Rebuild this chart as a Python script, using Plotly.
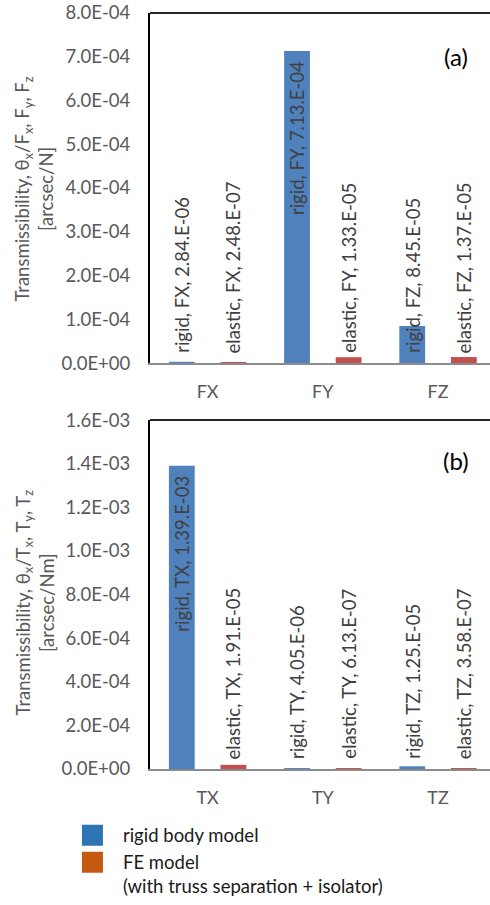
import plotly.graph_objects as go

# ---------------- data ----------------
force_categories = ["FX", "FY", "FZ"]
force_rigid = [2.84e-06, 7.13e-04, 8.45e-05]
force_elastic = [2.48e-07, 1.33e-05, 1.37e-05]
force_ticks = [0, 1e-4, 2e-4, 3e-4, 4e-4, 5e-4, 6e-4, 7e-4, 8e-4]

torque_categories = ["TX", "TY", "TZ"]
torque_rigid = [1.39e-03, 4.05e-06, 1.25e-05]
torque_elastic = [1.91e-05, 6.13e-07, 3.58e-07]
torque_ticks = [0, 2e-4, 4e-4, 6e-4, 8e-4, 1.0e-3, 1.2e-3, 1.4e-3, 1.6e-3]

series_short = ["rigid", "elastic"]
legend_names = ["rigid body model", "FE model<br>(with truss separation + isolator)"]

# ---------------- style ----------------
FONT = "Lato"
BAR_COLORS = ["#4F81BD", "#C0504D"]
LEGEND_COLORS = ["#2E75B6", "#C55A11"]
TICK_COLOR = "#595959"
LABEL_COLOR = "#404040"


def fmt_tick(v):
    return f"{v:.1E}"


def fmt_label(series, cat, v):
    s = f"{v:.2E}"
    return f"{series}, {cat}, " + s.replace("E", ".E")


fig = go.Figure()

panels = [
    ("x", "y", force_categories, [force_rigid, force_elastic], force_ticks),
    ("x2", "y2", torque_categories, [torque_rigid, torque_elastic], torque_ticks),
]

annotations = []
offsets = [-0.224, 0.224]
for xa, ya, cats, series_vals, ticks in panels:
    ymax = ticks[-1]
    for si, vals in enumerate(series_vals):
        fig.add_trace(go.Bar(
            x=cats, y=vals, xaxis=xa, yaxis=ya,
            marker=dict(color=BAR_COLORS[si], line=dict(width=0)),
            showlegend=False, hoverinfo="skip",
        ))
        for ci, (cat, v) in enumerate(zip(cats, vals)):
            inside_end = v > 0.5 * ymax
            annotations.append(dict(
                x=ci + offsets[si], xref=xa,
                y=v if inside_end else 0, yref=ya,
                yanchor="top" if inside_end else "bottom",
                xanchor="center",
                yshift=-8 if inside_end else 8,
                text=fmt_label(series_short[si], cat, v),
                textangle=-90, showarrow=False,
                font=dict(family=FONT, size=18.5, color=LABEL_COLOR),
            ))

# legend-only entries
for name, col in zip(legend_names, LEGEND_COLORS):
    fig.add_trace(go.Scatter(
        x=[None], y=[None], mode="markers", name=name,
        marker=dict(symbol="square", size=16, color=col, line=dict(color=col, width=5)),
        xaxis="x2", yaxis="y2", showlegend=True,
    ))

# panel letters
annotations.append(dict(x=0.9, xref="paper", y=0.876, yref="y domain", text="(a)",
                        xanchor="center", yanchor="middle",
                        showarrow=False, font=dict(family=FONT, size=24, color="#000000")))
annotations.append(dict(x=0.9, xref="paper", y=0.885, yref="y2 domain", text="(b)",
                        xanchor="center", yanchor="middle",
                        showarrow=False, font=dict(family=FONT, size=24, color="#000000")))

# y-axis titles
annotations.append(dict(
    x=-0.3397, xref="paper", y=0.497, yref="y domain", textangle=-90, showarrow=False,
    xanchor="center", yanchor="middle",
    text="Transmissibility, θ<sub>x</sub>/F<sub>x</sub>, F<sub>y</sub>, F<sub>z</sub><br>[arcsec/N]",
    font=dict(family=FONT, size=18.5, color=TICK_COLOR),
))
annotations.append(dict(
    x=-0.3397, xref="paper", y=0.476, yref="y2 domain", textangle=-90, showarrow=False,
    xanchor="center", yanchor="middle",
    text="Transmissibility, θ<sub>x</sub>/T<sub>x</sub>, T<sub>y</sub>, T<sub>z</sub><br>[arcsec/Nm]",
    font=dict(family=FONT, size=18.5, color=TICK_COLOR),
))

shapes = []
for ya in ["y", "y2"]:
    shapes.append(dict(type="line", xref="x domain" if ya == "y" else "x2 domain",
                       yref=f"{ya} domain", x0=0, x1=1, y0=1, y1=1,
                       line=dict(color="#262626", width=2)))

xaxis_common = dict(
    type="category", range=[-0.5, 2.451], showline=True, linecolor="#8C8C8C",
    linewidth=1.5, showgrid=False, zeroline=False, ticks="",
    tickfont=dict(family=FONT, size=18, color=TICK_COLOR), ticklabelstandoff=12,
)
yaxis_common = dict(
    showline=True, linecolor="#000000", linewidth=2, showgrid=False, zeroline=False,
    ticks="", tickfont=dict(family=FONT, size=18.5, color=TICK_COLOR), ticklabelstandoff=14,
)

fig.update_layout(
    width=490, height=905,
    margin=dict(l=150, r=0, t=13, b=136, autoexpand=False),
    paper_bgcolor="white", plot_bgcolor="white",
    barmode="group", bargap=0.104, bargroupgap=0.5,
    xaxis=dict(xaxis_common, domain=[0, 1], anchor="y",
               categoryorder="array", categoryarray=force_categories),
    yaxis=dict(yaxis_common, domain=[0.537, 1], anchor="x", range=[0, force_ticks[-1]],
               tickvals=force_ticks, ticktext=[fmt_tick(v) for v in force_ticks]),
    xaxis2=dict(xaxis_common, domain=[0, 1], anchor="y2",
                categoryorder="array", categoryarray=torque_categories),
    yaxis2=dict(yaxis_common, domain=[0, 0.4616], anchor="x2", range=[0, torque_ticks[-1]],
                tickvals=torque_ticks, ticktext=[fmt_tick(v) for v in torque_ticks]),
    annotations=annotations,
    shapes=shapes,
    legend=dict(x=-0.259, y=-0.063, xanchor="left", yanchor="top",
                font=dict(family=FONT, size=18.5, color="#1a1a1a"),
                bgcolor="rgba(0,0,0,0)", valign="top", tracegroupgap=0,
                itemwidth=51, traceorder="normal"),
    showlegend=True,
)

fig.write_html(
    "out.html",
    config={"displayModeBar": False},
    post_script="document.body.style.margin='0';document.body.style.overflow='hidden';",
)
